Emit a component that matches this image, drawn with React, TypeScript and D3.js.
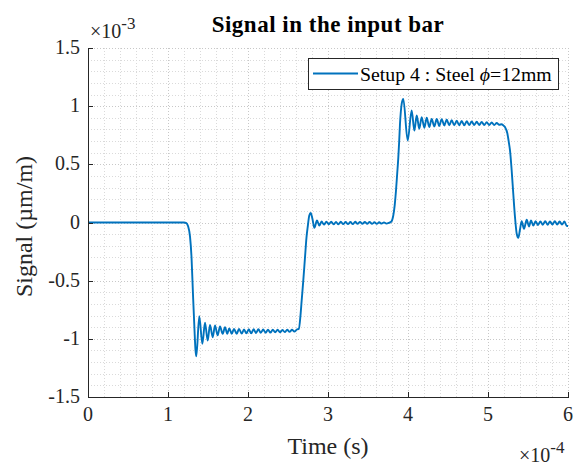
import React from "react";
import * as d3 from "d3";

// time in units of 1e-4 s, signal in units of 1e-3 µm/m
const T = [
  0, 1.2, 1.23, 1.25, 1.275, 1.294, 1.3125, 1.331, 1.344, 1.354,
  1.391, 1.429, 1.4625, 1.496, 1.525, 1.559, 1.5875, 1.621, 1.65, 1.684,
  1.7125, 1.741, 1.766, 1.796, 1.825, 1.859, 1.8875, 1.921, 1.95, 1.98,
  2.01, 2.04, 2.07, 2.1, 2.13, 2.16, 2.19, 2.22, 2.25, 2.28,
  2.31, 2.34, 2.37, 2.4, 2.43, 2.46, 2.49, 2.52, 2.55, 2.58,
  2.61, 2.635, 2.656, 2.671, 2.691, 2.7125, 2.731, 2.746, 2.766, 2.784,
  2.806, 2.829, 2.8625, 2.891, 2.92, 2.95, 2.98, 3.01, 3.04, 3.07,
  3.1, 3.13, 3.16, 3.19, 3.22, 3.25, 3.28, 3.31, 3.34, 3.37,
  3.4, 3.43, 3.46, 3.49, 3.52, 3.55, 3.58, 3.61, 3.64, 3.67,
  3.7, 3.73, 3.76, 3.794, 3.816, 3.834, 3.85, 3.865, 3.879, 3.89,
  3.9, 3.91, 3.921, 3.941, 3.996, 4.046, 4.079, 4.109, 4.141, 4.171,
  4.204, 4.234, 4.266, 4.296, 4.329, 4.359, 4.391, 4.421, 4.454, 4.484,
  4.516, 4.546, 4.578, 4.609, 4.64, 4.671, 4.703, 4.734, 4.765, 4.796,
  4.828, 4.859, 4.89, 4.921, 4.953, 4.984, 5.015, 5.046, 5.078, 5.109,
  5.14, 5.17, 5.191, 5.2125, 5.241, 5.2625, 5.275, 5.296, 5.316, 5.3375,
  5.359, 5.379, 5.4, 5.421, 5.45, 5.484, 5.5125, 5.5375, 5.566, 5.595,
  5.625, 5.655, 5.685, 5.715, 5.745, 5.775, 5.805, 5.835, 5.865, 5.895,
  5.925, 5.955, 5.985, 6.0,
];
const V = [
  0, 0, -0.005, -0.03, -0.12, -0.3, -0.62, -0.92, -1.1, -1.15,
  -0.805, -1.043, -0.862, -1.015, -0.88, -0.986, -0.886, -0.97, -0.894, -0.957,
  -0.9, -0.957, -0.91, -0.957, -0.915, -0.957, -0.915, -0.955, -0.92, -0.953,
  -0.918, -0.952, -0.918, -0.95, -0.918, -0.948, -0.92, -0.948, -0.922, -0.946,
  -0.922, -0.944, -0.922, -0.944, -0.924, -0.942, -0.922, -0.94, -0.922, -0.938,
  -0.92, -0.915, -0.8, -0.67, -0.5, -0.3, -0.13, -0.04, 0.06, 0.083,
  0.03, -0.046, 0.017, -0.026, 0.008, -0.018, 0.006, -0.016, 0.006, -0.016,
  0.004, -0.016, 0.006, -0.014, 0.004, -0.014, 0.004, -0.014, 0.006, -0.012,
  0.004, -0.012, 0.004, -0.012, 0.004, -0.012, 0.002, -0.012, 0.002, -0.01,
  0.0, -0.01, -0.004, 0.01, 0.06, 0.15, 0.275, 0.42, 0.56, 0.7,
  0.85, 0.95, 1.02, 1.063, 0.705, 0.963, 0.79, 0.92, 0.806, 0.905,
  0.815, 0.9, 0.82, 0.89, 0.826, 0.89, 0.83, 0.888, 0.834, 0.885,
  0.835, 0.88, 0.835, 0.875, 0.836, 0.872, 0.836, 0.87, 0.837, 0.868,
  0.838, 0.866, 0.838, 0.865, 0.838, 0.862, 0.838, 0.86, 0.838, 0.856,
  0.84, 0.845, 0.835, 0.82, 0.77, 0.68, 0.62, 0.447, 0.247, 0.046,
  -0.097, -0.132, -0.06, 0.011, -0.054, 0.023, -0.034, 0.017, -0.026, 0.012,
  -0.022, 0.01, -0.02, 0.012, -0.02, 0.01, -0.018, 0.012, -0.018, 0.01,
  -0.018, 0.008, -0.03, -0.03,
];

const X_TICKS = [0, 1, 2, 3, 4, 5, 6];
const Y_TICKS = [-1.5, -1, -0.5, 0, 0.5, 1, 1.5];
const Y_TICK_LABELS = ["-1.5", "-1", "-0.5", "0", "0.5", "1", "1.5"];
const TITLE = "Signal in the input bar";
const X_LABEL = "Time (s)";
const Y_LABEL = "Signal (µm/m)";
const LEGEND_LABEL = "Setup 4 : Steel ";

const W = 575, H = 465;
const L = 88, R = 568, TOP = 48, BOT = 397;
const FONT = "'Liberation Serif', 'Times New Roman', serif";

export default function App() {
  const x = d3.scaleLinear().domain([0, 6]).range([L, R]);
  const y = d3.scaleLinear().domain([-1.5, 1.5]).range([BOT, TOP]);
  const data = T.map((t, i) => [t, V[i]] as [number, number]);
  const line = d3
    .line<[number, number]>()
    .x((d) => x(d[0]))
    .y((d) => y(d[1]))
    .curve(d3.curveMonotoneX);

  const xMinor = d3.range(0, 6.0001, 0.2);
  const yMinor = d3.range(-1.5, 1.5001, 0.1);

  return (
    <svg
      width={W}
      height={H}
      style={{ position: "absolute", left: 0, top: 0, background: "#fff" }}
      fontFamily={FONT}
    >
      <rect x={0} y={0} width={W} height={H} fill="#fff" />
      {/* minor grid */}
      <g stroke="#dadada" strokeWidth={1} strokeDasharray="1 2">
        {xMinor.map((v, i) => (
          <line key={"xm" + i} x1={x(v) + 0.5} x2={x(v) + 0.5} y1={TOP} y2={BOT} />
        ))}
        {yMinor.map((v, i) => (
          <line key={"ym" + i} x1={L} x2={R} y1={Math.round(y(v)) + 0.5} y2={Math.round(y(v)) + 0.5} />
        ))}
      </g>
      {/* major grid */}
      <g stroke="#c8c8c8" strokeWidth={1} strokeDasharray="1 2">
        {X_TICKS.map((v) => (
          <line key={"xg" + v} x1={x(v) + 0.5} x2={x(v) + 0.5} y1={TOP} y2={BOT} />
        ))}
        {Y_TICKS.map((v) => (
          <line key={"yg" + v} x1={L} x2={R} y1={Math.round(y(v)) + 0.5} y2={Math.round(y(v)) + 0.5} />
        ))}
      </g>
      {/* signal */}
      <path d={line(data) || ""} fill="none" stroke="#0072BD" strokeWidth={1.9} strokeLinejoin="round" />
      {/* axes */}
      <g stroke="#262626" strokeWidth={1} fill="none">
        <line x1={L + 0.5} x2={L + 0.5} y1={TOP} y2={BOT + 0.5} />
        <line x1={L} x2={R + 1} y1={BOT + 0.5} y2={BOT + 0.5} />
        {X_TICKS.map((v) => (
          <line key={"xt" + v} x1={x(v) + 0.5} x2={x(v) + 0.5} y1={BOT} y2={BOT - 5} />
        ))}
        {Y_TICKS.map((v) => (
          <line key={"yt" + v} x1={L} x2={L + 5} y1={Math.round(y(v)) + 0.5} y2={Math.round(y(v)) + 0.5} />
        ))}
      </g>
      {/* tick labels */}
      <g fill="#262626" fontSize={20}>
        {X_TICKS.map((v) => (
          <text key={"xl" + v} x={x(v)} y={BOT + 24} textAnchor="middle">
            {String(v)}
          </text>
        ))}
        {Y_TICKS.map((v, i) => (
          <text key={"yl" + v} x={L - 8} y={y(v) + 6} textAnchor="end">
            {Y_TICK_LABELS[i]}
          </text>
        ))}
      </g>
      {/* exponents */}
      <text x={90} y={38} fontSize={20} fill="#262626">
        ×10<tspan dy={-9} fontSize={17}>-3</tspan>
      </text>
      <text x={519} y={462} fontSize={20} fill="#262626">
        ×10<tspan dy={-9} fontSize={17}>-4</tspan>
      </text>
      {/* axis labels */}
      <text x={(L + R) / 2} y={454} textAnchor="middle" fontSize={24} fill="#262626">
        {X_LABEL}
      </text>
      <text
        transform={`translate(32, ${(TOP + BOT) / 2 + 4}) rotate(-90)`}
        textAnchor="middle"
        fontSize={24}
        fill="#262626"
      >
        {Y_LABEL}
      </text>
      {/* title */}
      <text x={(L + R) / 2} y={32} textAnchor="middle" fontSize={23} letterSpacing={0.5} fontWeight="bold" fill="#000">
        {TITLE}
      </text>
      {/* legend */}
      <rect x={308.5} y={58.5} width={250} height={31} fill="#fff" stroke="#262626" strokeWidth={1} />
      <line x1={313} x2={358} y1={73.5} y2={73.5} stroke="#0072BD" strokeWidth={1.9} />
      <text x={360} y={80.5} fontSize={19.8} fill="#000">
        {LEGEND_LABEL}
        <tspan fontStyle="italic">ϕ</tspan>=12mm
      </text>
    </svg>
  );
}
